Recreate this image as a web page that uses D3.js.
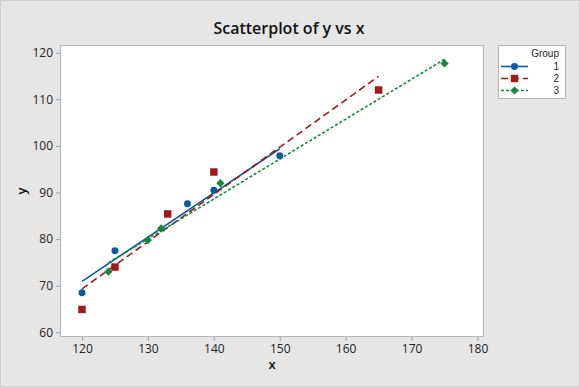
<!DOCTYPE html>
<html>
<head>
<meta charset="utf-8">
<script src="https://cdn.jsdelivr.net/npm/d3@7"></script>
<style>
  html, body { margin: 0; padding: 0; background: #e6e6e6; }
  svg { display: block; font-family: "Open Sans", "Noto Sans", sans-serif; }
</style>
</head>
<body>
<svg id="chart" width="580" height="387"></svg>
<script>
// data
const groups = ['1', '2', '3'];
const xTicks = [120, 130, 140, 150, 160, 170, 180];
const yTicks = [60, 70, 80, 90, 100, 110, 120];

const g1x = [120, 125, 136, 140, 150];
const g1y = [68.5, 77.5, 87.6, 90.5, 97.9];
const g2x = [120, 125, 133, 140, 165];
const g2y = [64.9, 74.0, 85.4, 94.4, 112.0];
const g3x = [124, 130, 132, 141, 175];
const g3y = [73.0, 79.8, 82.3, 92.0, 117.7];

const W = 580, H = 387;
const plot = { left: 60, top: 45, right: 484, bottom: 337 };

const svg = d3.select('#chart');

// outer frame
svg.append('rect')
    .attr('x', 0.5).attr('y', 0.5)
    .attr('width', W - 1).attr('height', H - 1)
    .attr('fill', '#e6e6e6')
    .attr('stroke', '#cfcfcf');

const x = d3.scaleLinear().domain([116.66, 180.99]).range([plot.left, plot.right]);
const y = d3.scaleLinear().domain([58.99, 121.66]).range([plot.bottom, plot.top]);

// plot area
svg.append('rect')
    .attr('x', plot.left + 0.5).attr('y', plot.top + 0.5)
    .attr('width', plot.right - plot.left - 1).attr('height', plot.bottom - plot.top - 1)
    .attr('fill', '#fff')
    .attr('stroke', '#b4b4b4');

// axes
const xAxis = svg.append('g')
    .attr('transform', `translate(0,${plot.bottom})`)
    .call(d3.axisBottom(x).tickValues(xTicks).tickSize(4).tickPadding(3));
const yAxis = svg.append('g')
    .attr('transform', `translate(${plot.left},0)`)
    .call(d3.axisLeft(y).tickValues(yTicks).tickSize(4).tickPadding(3));

[xAxis, yAxis].forEach(a => {
    a.select('.domain').remove();
    a.selectAll('.tick line').attr('stroke', '#a0a0a0');
    a.selectAll('.tick text')
        .attr('fill', '#222')
        .style('font-size', '12px')
        .style('font-family', '"Open Sans", sans-serif');
});

// title and axis labels
svg.append('text')
    .attr('x', 289).attr('y', 34)
    .attr('text-anchor', 'middle')
    .style('font-size', '16px')
    .style('font-weight', '600')
    .attr('fill', '#111')
    .text('Scatterplot of y vs x');

svg.append('text')
    .attr('x', (plot.left + plot.right) / 2).attr('y', 369)
    .attr('text-anchor', 'middle')
    .style('font-size', '13px')
    .style('font-weight', '600')
    .attr('fill', '#111')
    .text('x');

svg.append('text')
    .attr('transform', `translate(26,${(plot.top + plot.bottom) / 2}) rotate(-90)`)
    .attr('text-anchor', 'middle')
    .style('font-size', '13px')
    .style('font-weight', '600')
    .attr('fill', '#111')
    .text('y');

// series styles (diamond = square turned 45deg)
const series = [
    { name: groups[0], xs: g1x, ys: g1y, color: '#0a5aa8', dash: null, shape: d3.symbolCircle, size: 38, rot: 0 },
    { name: groups[1], xs: g2x, ys: g2y, color: '#9e1b1b', dash: '7,4', shape: d3.symbolSquare, size: 56, rot: 0 },
    { name: groups[2], xs: g3x, ys: g3y, color: '#14893a', dash: '3,2', shape: d3.symbolSquare, size: 34, rot: 45 }
];

// least squares fit per group
function fit(xs, ys) {
    const mx = d3.mean(xs), my = d3.mean(ys);
    let sxy = 0, sxx = 0;
    xs.forEach((v, i) => { sxy += (v - mx) * (ys[i] - my); sxx += (v - mx) * (v - mx); });
    const b = sxy / sxx;
    return v => my + b * (v - mx);
}

const g = svg.append('g');

// lines (drawn under markers)
series.forEach(s => {
    const f = fit(s.xs, s.ys);
    const x0 = d3.min(s.xs), x1 = d3.max(s.xs);
    g.append('line')
        .attr('x1', x(x0)).attr('y1', y(f(x0)))
        .attr('x2', x(x1)).attr('y2', y(f(x1)))
        .attr('stroke', s.color)
        .attr('stroke-width', 1.6)
        .attr('stroke-dasharray', s.dash);
});

// markers
series.forEach(s => {
    g.selectAll(null)
        .data(s.xs.map((v, i) => [v, s.ys[i]]))
        .join('path')
        .attr('d', d3.symbol().type(s.shape).size(s.size))
        .attr('transform', d => `translate(${x(d[0])},${y(d[1])}) rotate(${s.rot})`)
        .attr('fill', s.color);
});

// legend
const legendFont = '"Liberation Sans", Arial, sans-serif';
const lg = svg.append('g');
lg.append('rect')
    .attr('x', 498.5).attr('y', 45.5)
    .attr('width', 67).attr('height', 53)
    .attr('fill', '#fff')
    .attr('stroke', '#b4b4b4');
lg.append('text')
    .attr('x', 559).attr('y', 56.5)
    .attr('text-anchor', 'end')
    .style('font-size', '10px')
    .style('font-family', legendFont)
    .attr('fill', '#222')
    .text('Group');

series.forEach((s, i) => {
    const cy = 66.5 + i * 12;
    lg.append('line')
        .attr('x1', 501).attr('x2', 528)
        .attr('y1', cy).attr('y2', cy)
        .attr('stroke', s.color)
        .attr('stroke-width', 1.6)
        .attr('stroke-dasharray', s.dash);
    lg.append('path')
        .attr('d', d3.symbol().type(s.shape).size(s.size))
        .attr('transform', `translate(514.5,${cy}) rotate(${s.rot})`)
        .attr('fill', s.color);
    lg.append('text')
        .attr('x', 559).attr('y', cy + 3.5)
        .attr('text-anchor', 'end')
        .style('font-size', '10px')
        .style('font-family', legendFont)
        .attr('fill', '#222')
        .text(s.name);
});
</script>
</body>
</html>
